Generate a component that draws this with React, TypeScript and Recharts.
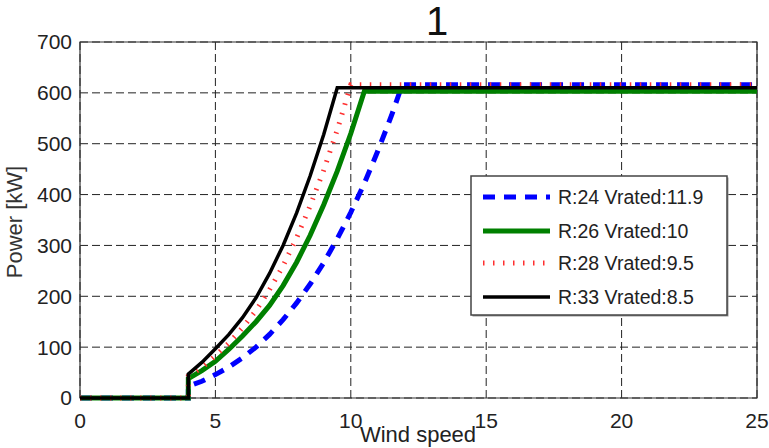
import React from 'react';
import { LineChart, Line, XAxis, YAxis, CartesianGrid, ReferenceArea } from 'recharts';

const titleText = '1';
const xLabel = 'Wind speed';
const yLabel = 'Power [kW]';
const xTicks = [0, 5, 10, 15, 20, 25];
const yTicks = [0, 100, 200, 300, 400, 500, 600, 700];

const seriesNames = ['R:24 Vrated:11.9', 'R:26 Vrated:10', 'R:28 Vrated:9.5', 'R:33 Vrated:8.5'];

const speedR24 = [0, 4, 4, 4.5, 5, 5.5, 6, 6.5, 7, 7.5, 8, 8.5, 9, 9.5, 10, 10.5, 11, 11.5, 11.9, 25];
const powerR24 = [0, 0, 23, 33, 46, 61, 79, 100, 125, 154, 187, 224, 266, 313, 365, 422, 486, 555, 616, 616];

const speedR26 = [0, 4, 4, 4.5, 5, 5.5, 6, 6.5, 7, 7.5, 8, 8.5, 9, 9.5, 10, 10.5, 25];
const powerR26 = [0, 0, 38, 54, 72, 96, 122, 150, 182, 221, 267, 320, 380, 446, 520, 603, 603];

const speedR28 = [0, 4, 4, 4.5, 5, 5.5, 6, 6.5, 7, 7.5, 8, 8.5, 9, 9.5, 10, 25];
const powerR28 = [0, 0, 43, 60, 83, 108, 138, 172, 213, 260, 315, 378, 448, 527, 616, 616];

const speedR33 = [0, 4, 4, 4.5, 5, 5.5, 6, 6.5, 7, 7.5, 8, 8.5, 9, 9.5, 25];
const powerR33 = [0, 0, 47, 70, 97, 125, 158, 197, 245, 300, 364, 437, 518, 610, 610];

const toRows = (v: number[], p: number[]) => v.map((x, i) => ({ v: x, p: p[i] }));

const styles = [
  { color: '#0000ff', width: 5, dash: '12 9' },
  { color: '#008000', width: 5, dash: undefined as string | undefined },
  { color: '#ff3030', width: 5, dash: '1.5 8.5' },
  { color: '#000000', width: 3.5, dash: undefined as string | undefined },
];

const FONT = '"Liberation Sans", Arial, sans-serif';

export default function App() {
  const series = [
    toRows(speedR24, powerR24),
    toRows(speedR26, powerR26),
    toRows(speedR28, powerR28),
    toRows(speedR33, powerR33),
  ];
  return (
    <div style={{ position: 'absolute', left: 0, top: 0, width: 769, height: 448, background: '#fff', fontFamily: FONT, overflow: 'hidden' }}>
      <LineChart width={769} height={448} margin={{ top: 42, right: 12, bottom: 0, left: 0 }}>
        <CartesianGrid stroke="#222" strokeDasharray="8 4" strokeWidth={1} />
        <XAxis
          dataKey="v"
          type="number"
          domain={[0, 25]}
          ticks={xTicks}
          allowDataOverflow
          height={50}
          tickLine={false}
          axisLine={false}
          tickSize={6}
          tickMargin={9}
          interval={0}
          tick={{ fontSize: 21, fill: '#222', fontFamily: FONT }}
        />
        <YAxis
          type="number"
          domain={[0, 700]}
          ticks={yTicks}
          width={80}
          tickLine={false}
          axisLine={false}
          tickSize={6}
          tickMargin={2}
          interval={0}
          tick={{ fontSize: 21, fill: '#222', fontFamily: FONT }}
        />
        {series.map((d, i) => (
          <Line
            key={seriesNames[i]}
            data={d}
            dataKey="p"
            name={seriesNames[i]}
            type="linear"
            stroke={styles[i].color}
            strokeWidth={styles[i].width}
            strokeDasharray={styles[i].dash}
            dot={false}
            activeDot={false}
            isAnimationActive={false}
          />
        ))}
        <ReferenceArea x1={0} x2={25} y1={0} y2={700} fill="none" fillOpacity={0} stroke="#333" strokeWidth={1.2} />
      </LineChart>
      <svg width={769} height={448} style={{ position: 'absolute', left: 0, top: 0, pointerEvents: 'none' }}>
        <text x={437} y={35} textAnchor="middle" fontSize={40} fill="#111" fontFamily={FONT}>{titleText}</text>
        <text x={0} y={0} transform="translate(22,222) rotate(-90)" textAnchor="middle" fontSize={22} fill="#333" fontFamily={FONT}>{yLabel}</text>
        <text x={418} y={442} textAnchor="middle" fontSize={22} fill="#222" fontFamily={FONT}>{xLabel}</text>
      </svg>
      <svg width={260} height={143} style={{ position: 'absolute', left: 470, top: 175 }}>
        <rect x={2.5} y={2.5} width={256} height={139} fill="#999" />
        <rect x={1} y={1} width={256} height={139} fill="#fff" stroke="#444" strokeWidth={1.5} />
        {seriesNames.map((n, i) => {
          const cy = [22, 56, 88, 122][i];
          return (
            <g key={n}>
              <line x1={13} x2={80} y1={cy} y2={cy} stroke={styles[i].color} strokeWidth={styles[i].width} strokeDasharray={styles[i].dash} />
              <text x={88} y={cy} dominantBaseline="central" fontSize={19.5} fill="#222" fontFamily={FONT}>{n}</text>
            </g>
          );
        })}
      </svg>
    </div>
  );
}
